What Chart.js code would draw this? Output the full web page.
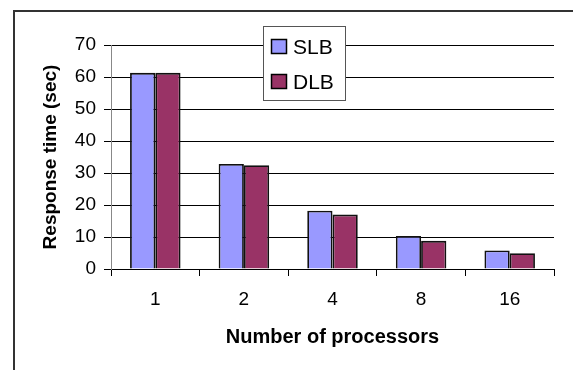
<!DOCTYPE html>
<html>
<head>
<meta charset="utf-8">
<script src="https://cdn.jsdelivr.net/npm/chart.js@4/dist/chart.umd.min.js"></script>
<style>
  html, body { margin: 0; padding: 0; background: #fff; }
  #wrap { width: 573px; height: 370px; }
</style>
</head>
<body>
<div id="wrap"><canvas id="chart" width="573" height="370"></canvas></div>
<script>
const processors = ['1', '2', '4', '8', '16'];
const slbTimes = [61.3, 32.8, 18.2, 10.3, 5.8];
const dlbTimes = [61.3, 32.4, 17.0, 8.8, 4.9];
const seriesNames = ['SLB', 'DLB'];
const seriesColors = ['#9999FF', '#993366'];

Chart.defaults.font.family = '"Liberation Sans", Arial, sans-serif';
Chart.defaults.color = '#000';

// outer frame + boxed legend in the plot corner
const frameLegend = {
  id: 'frameLegend',
  afterDraw(chart) {
    const ctx = chart.ctx;
    ctx.save();
    ctx.strokeStyle = '#333';
    ctx.lineWidth = 2;
    ctx.strokeRect(14, 11, 600, 400);

    const box = { x: 263.5, y: 26.5, w: 82, h: 74 };
    ctx.fillStyle = '#fff';
    ctx.fillRect(box.x, box.y, box.w, box.h);
    ctx.strokeStyle = '#555';
    ctx.lineWidth = 1;
    ctx.strokeRect(box.x, box.y, box.w, box.h);

    ctx.font = '21px "Liberation Sans", Arial, sans-serif';
    ctx.textBaseline = 'middle';
    chart.data.datasets.forEach((ds, i) => {
      const cy = 47 + i * 35;
      ctx.fillStyle = ds.backgroundColor;
      ctx.fillRect(271.5, cy - 7.5, 15, 14);
      ctx.strokeStyle = '#000';
      ctx.lineWidth = 1.5;
      ctx.strokeRect(271.5, cy - 7.5, 15, 14);
      ctx.fillStyle = '#000';
      ctx.fillText(ds.label, 293, cy + 1);
    });
    ctx.restore();
  }
};

new Chart(document.getElementById('chart'), {
  type: 'bar',
  data: {
    labels: processors,
    datasets: [
      { label: seriesNames[0], data: slbTimes, backgroundColor: seriesColors[0] },
      { label: seriesNames[1], data: dlbTimes, backgroundColor: seriesColors[1] }
    ]
  },
  options: {
    responsive: false,
    animation: false,
    layout: { padding: { left: 31, top: 45, right: 19, bottom: 21 } },
    datasets: {
      bar: {
        borderColor: '#111',
        borderWidth: 1.8,
        categoryPercentage: 0.57,
        barPercentage: 1
      }
    },
    plugins: {
      legend: { display: false },
      tooltip: { enabled: false }
    },
    scales: {
      x: {
        afterFit: s => { s.height = 80; },
        grid: { drawOnChartArea: false, drawTicks: true, tickLength: 7, color: '#000', offset: true },
        border: { color: '#000', width: 1 },
        ticks: { font: { size: 19 }, padding: 12 },
        title: {
          display: true,
          text: 'Number of processors',
          font: { size: 20, weight: 'bold' },
          padding: { top: 6, bottom: 0 }
        }
      },
      y: {
        min: 0,
        max: 70,
        afterFit: s => { s.width = 80; },
        grid: { color: '#000', tickLength: 7, lineWidth: 1 },
        border: { color: '#888', width: 1 },
        ticks: { stepSize: 10, font: { size: 19 }, padding: 8 },
        title: {
          display: true,
          text: 'Response time (sec)',
          font: { size: 19, weight: 'bold' },
          padding: { top: 8, bottom: 0 }
        }
      }
    }
  },
  plugins: [frameLegend]
});
</script>
</body>
</html>
